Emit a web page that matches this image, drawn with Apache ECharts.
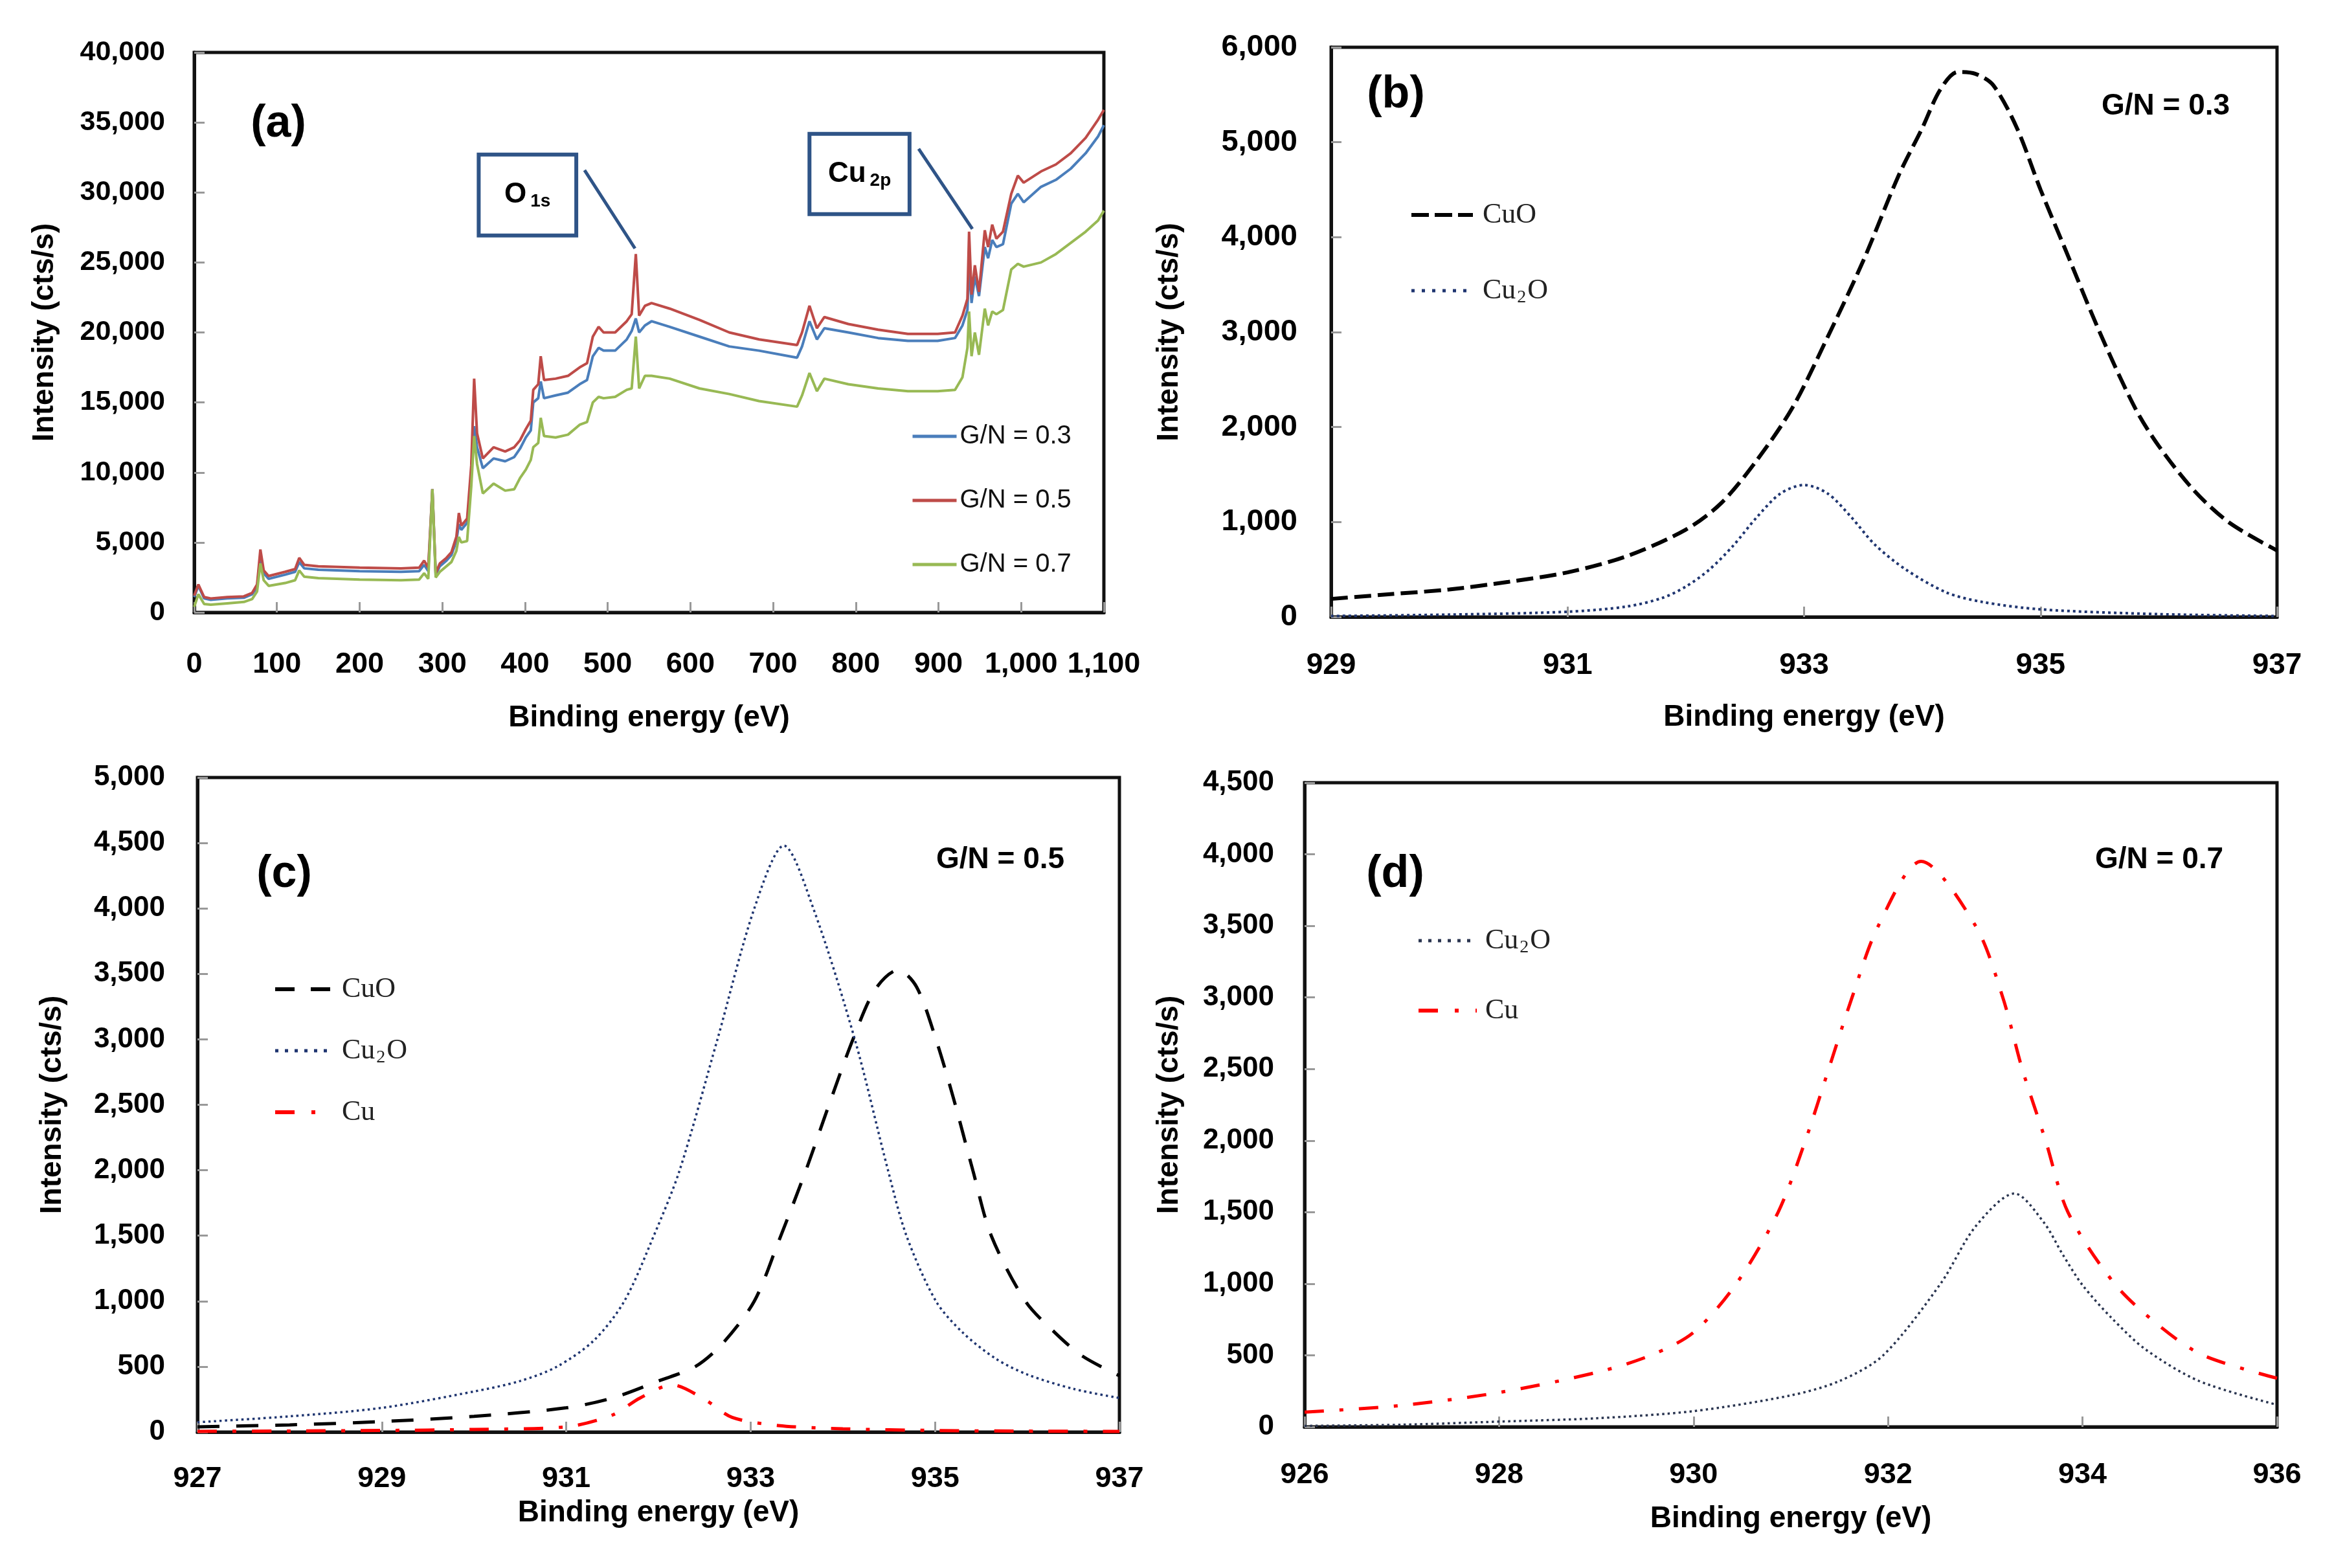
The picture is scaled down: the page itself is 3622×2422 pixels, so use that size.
<!DOCTYPE html>
<html><head><meta charset="utf-8">
<script src="https://cdn.jsdelivr.net/npm/echarts@6/dist/echarts.min.js"></script>
<style>html,body{margin:0;padding:0;background:#fff}#c{width:3622px;height:2422px}</style>
</head><body><div id="c"></div>
<script>
// ---------- Panel (a): XPS survey spectra ----------
const surveyEnergy = [0,5,12,20,40,60,70,76,80,84,90,110,122,127,133,150,200,250,272,278,283,288,292,297,305,311,317,320,323,330,335,338.5,342,349,362,376,387,394,401,407,410,416,419,423,437,452,466,475,482,489,495,509,523,529,534,538,545,553,575,611,647,683,729,735,744,753,762,791,827,863,899,920,929,935,937,940,944,949,956,960,965,970,978,988,996,1003,1024,1042,1060,1078,1093,1100];
const surveyGN03 = [1100,1900,1000,900,1000,1050,1300,1800,4000,2800,2400,2700,2900,3600,3150,3050,2950,2900,2950,3400,2950,8800,2700,3300,3700,4100,5100,6300,5900,6400,9800,13300,11800,10300,11000,10800,11100,11700,12500,13000,15000,15300,16500,15300,15500,15700,16300,16600,18300,18900,18700,18700,19500,20100,21000,20000,20500,20800,20400,19700,19000,18700,18200,19000,20800,19500,20300,20000,19600,19400,19400,19600,20500,21600,25000,22100,24000,22600,26100,25300,26600,26100,26300,29200,29900,29300,30400,30900,31700,32800,34000,34800];
const surveyGN05 = [1200,2000,1100,1000,1100,1150,1400,2000,4500,3000,2600,2900,3100,3900,3400,3300,3200,3150,3200,3700,3200,8800,2800,3500,3900,4300,5400,7100,6200,6700,10500,16700,12800,11000,11800,11500,11800,12300,13100,13700,15900,16300,18300,16600,16700,16900,17500,17800,19700,20400,20000,20000,20800,21300,25600,21200,21900,22100,21700,20900,20000,19500,19100,20000,21900,20300,21100,20600,20200,19900,19900,20000,21200,22400,27200,22700,24800,22900,27300,26100,27700,26700,27200,29900,31200,30700,31500,32000,32800,33900,35200,35900];
const surveyGN07 = [400,1300,600,550,650,750,950,1500,3500,2300,1900,2100,2300,3000,2550,2450,2350,2300,2350,2800,2400,8800,2500,2900,3300,3600,4400,5400,5000,5100,9000,12600,10600,8500,9200,8700,8800,9600,10200,10900,11800,12100,13900,12600,12500,12700,13400,13600,15000,15400,15300,15400,15900,16000,19700,16000,16900,16900,16700,16000,15600,15100,14700,15500,17100,15800,16700,16300,16000,15800,15800,15900,16800,18900,21500,18300,20000,18400,21700,20500,21500,21300,21600,24500,24900,24700,25000,25600,26400,27200,28000,28700];
const surveyNames = ['G/N = 0.3','G/N = 0.5','G/N = 0.7'];
// annotation anchors (data units of panel a)
const o1sBox = [[344,32700],[462,26930]];
const o1sLeader = [[472,31590],[533,26000]];
const cu2pBox = [[744,34180],[865,28450]];
const cu2pLeader = [[876,33120],[941,27390]];

// ---------- Panel (b): G/N = 0.3 ----------
const bCuOEnergy = [929,929.5,930,930.5,931,931.5,932,932.3,932.6,932.9,933.2,933.5,933.8,934.0,934.15,934.3,934.45,934.6,934.8,935.0,935.2,935.5,935.8,936.0,936.3,936.6,937];
const bCuO       = [190,240,290,370,470,640,920,1200,1650,2200,2950,3750,4650,5150,5550,5740,5720,5600,5150,4500,3900,3000,2200,1800,1330,990,700];
const bCu2OEnergy = [929,930,931,931.5,931.8,932.0,932.2,932.4,932.6,932.8,933.0,933.2,933.4,933.6,933.86,934.2,934.5,935,936,937];
const bCu2O       = [10,25,55,110,200,320,500,750,1050,1300,1390,1300,1050,760,500,260,160,80,30,10];

// ---------- Panel (c): G/N = 0.5 ----------
const cCuOEnergy = [927,928,929,930,931,931.5,932,932.4,932.7,933.04,933.3,933.6,933.85,934.11,934.35,934.6,934.8,935.01,935.2,935.41,935.61,935.98,936.3,936.6,937];
const cCuO       = [40,55,80,120,185,260,390,500,680,1000,1450,2000,2500,3000,3380,3530,3400,3000,2550,2000,1500,1000,760,580,430];
const cCu2OEnergy = [927,928,929,930,930.5,930.9,931.3,931.63,931.95,932.23,932.64,933.04,933.36,933.68,934.13,934.49,934.69,935.01,935.3,935.66,936,936.5,937];
const cCu2O       = [75,120,185,310,390,500,700,1000,1500,2000,3000,4000,4480,4000,3000,2000,1500,1000,760,560,440,330,260];
const cCuEnergy = [927,928,929,930,931,931.5,931.8,932.15,932.5,932.8,933.3,934,935,936,937];
const cCu       = [5,8,12,20,40,130,260,360,250,112,50,25,12,7,5];

// ---------- Panel (d): G/N = 0.7 ----------
const dCuEnergy = [926,927,928,929,929.56,930,930.44,930.87,931.15,931.39,931.63,931.9,932.34,932.9,933.18,933.38,933.62,933.85,934.33,934.8,935.24,936];
const dCu       = [103,150,240,380,500,660,1000,1500,2000,2500,3000,3500,3950,3500,3000,2500,2000,1500,1000,700,500,340];
const dCu2OEnergy = [926,927,928,929,930,931,931.5,931.95,932.54,932.9,933.3,933.6,933.8,934.0,934.3,934.65,935.2,936];
const dCu2O       = [7,15,37,60,110,220,320,500,1000,1400,1630,1430,1200,990,760,540,320,154];

// tick values
const bTicks = [929,931,933,935,937];
const cTicks = [927,929,931,933,935,937];

const SANS = '"Liberation Sans", Arial, sans-serif';
const SERIF = '"Liberation Serif", "Times New Roman", serif';

function pairs(xs, ys){ return xs.map((x,i)=>[x, ys[i]]); }
function fmt(v){ return String(v).replace(/\B(?=(\d{3})+(?!\d))/g, ','); }

function xAx(gi, min, max, interval, ticks, margin, size, nameGap){
  const a = {type:'value', gridIndex:gi, min, max,
    axisLine:{show:true,onZero:false,lineStyle:{color:'#111',width:5}},
    axisTick:{show:true,inside:true,length:16,lineStyle:{color:'#999',width:3}},
    axisLabel:{margin, fontSize:size, fontWeight:'bold', color:'#000', fontFamily:SANS, formatter:fmt},
    splitLine:{show:false},
    name:'Binding energy (eV)', nameLocation:'middle', nameGap,
    nameTextStyle:{fontSize:46, fontWeight:'bold', color:'#000', fontFamily:SANS}};
  if (ticks){ a.axisTick.customValues = ticks; a.axisLabel.customValues = ticks; }
  else a.interval = interval;
  return a;
}
function yAx(gi, max, interval, margin, size, nameGap){
  return {type:'value', gridIndex:gi, min:0, max, interval,
    axisLine:{show:true,lineStyle:{color:'#111',width:5}},
    axisTick:{show:true,inside:true,length:16,lineStyle:{color:'#999',width:3}},
    axisLabel:{margin, fontSize:size, fontWeight:'bold', color:'#000', fontFamily:SANS, formatter:fmt},
    splitLine:{show:false},
    name:'Intensity (cts/s)', nameLocation:'middle', nameGap,
    nameTextStyle:{fontSize:46, fontWeight:'bold', color:'#000', fontFamily:SANS}};
}
function line(name, gi, xs, ys, color, width, type, smooth, extra){
  return Object.assign({name, type:'line', xAxisIndex:gi, yAxisIndex:gi, data:pairs(xs,ys),
    symbol:'none', showSymbol:false, smooth:smooth, animation:false,
    lineStyle:{color, width, type}, itemStyle:{color}}, extra||{});
}
const gridBase = {show:true, borderColor:'#111', borderWidth:5, backgroundColor:'#fff', containLabel:false, outerBoundsMode:'none'};

const legendNames = n => n.startsWith('Cu2O') ? 'Cu{s|2}O' : n.split(' ')[0];
// legend icon styles per item
const legendLine = {
  'CuO (b)': {width:6, type:[27,9]},
  'Cu2O (b)': {width:5, type:[5,11]},
  'CuO (c)': {width:6, type:[30,25]},
  'Cu2O (c)': {width:5, type:[5,10]},
  'Cu (c)': {width:6, type:[30,26,6,26]},
  'Cu2O (d)': {width:5, type:[5,10]},
  'Cu (d)': {width:6, type:[30,26,6,26]}
};
function legendCfg(left, top, names, itemWidth, gap, pad){
  return {orient:'vertical', left, top, itemWidth, itemHeight:16, itemGap:gap,
    data:names.map(n => ({name:n, lineStyle:legendLine[n]})), selectedMode:false,
    formatter:legendNames,
    itemStyle:{opacity:0},
    textStyle:{fontFamily:SERIF, fontSize:44, color:'#222', lineHeight:50, padding:[0,0,0,pad],
      rich:{s:{fontFamily:SERIF, fontSize:28, color:'#222', lineHeight:28, padding:[22,2,0,2]}}}};
}

const blue='#4A7EBB', red='#BE4B48', green='#98B954';
const navy='#1F3570', black='#000', cuRed='#FF0000';
const SM = 0.3;

const option = {
  backgroundColor:'#fff', animation:false,
  grid:[
    Object.assign({left:300, top:81, width:1405, height:865}, gridBase),
    Object.assign({left:2056, top:73, width:1461, height:880}, gridBase),
    Object.assign({left:305, top:1201, width:1424, height:1011}, gridBase),
    Object.assign({left:2015, top:1209, width:1502, height:995}, gridBase)
  ],
  xAxis:[
    xAx(0, 0, 1100, 100, null, 58, 45, 140),
    xAx(1, 929, 937, null, bTicks, 52, 46, 132),
    xAx(2, 927, 937, null, cTicks, 50, 45, 102),
    xAx(3, 926, 936, 2, null, 52, 45, 119)
  ],
  yAxis:[
    yAx(0, 40000, 5000, 45, 43, 208),
    yAx(1, 6000, 1000, 52, 47, 227),
    yAx(2, 5000, 500, 50, 44, 201),
    yAx(3, 4500, 500, 47, 44, 186)
  ],
  legend:[
    {orient:'vertical', left:1402, top:644, itemWidth:68, itemHeight:16, itemGap:49, data:surveyNames, selectedMode:false,
      itemStyle:{opacity:0}, lineStyle:{width:5},
      textStyle:{fontFamily:SANS, fontSize:40, color:'#111', lineHeight:50}},
    legendCfg(2172, 302, ['CuO (b)','Cu2O (b)'], 95, 67, 10),
    legendCfg(417, 1498, ['CuO (c)','Cu2O (c)','Cu (c)'], 88, 45, 10),
    legendCfg(2183, 1423, ['Cu2O (d)','Cu (d)'], 90, 58, 8)
  ],
  series:[
    line(surveyNames[0], 0, surveyEnergy, surveyGN03, blue, 4, 'solid', false),
    line(surveyNames[1], 0, surveyEnergy, surveyGN05, red, 4, 'solid', false),
    line(surveyNames[2], 0, surveyEnergy, surveyGN07, green, 4, 'solid', false, {
      markLine:{silent:true, symbol:['none','none'], animation:false, label:{show:false},
        lineStyle:{color:'#2F5487', width:5, type:'solid'},
        data:[[{coord:o1sLeader[0]},{coord:o1sLeader[1]}],[{coord:cu2pLeader[0]},{coord:cu2pLeader[1]}]]}}),
    line('CuO (b)', 1, bCuOEnergy, bCuO, black, 6, [26,10], SM),
    line('Cu2O (b)', 1, bCu2OEnergy, bCu2O, navy, 4, [4,5], SM),
    line('CuO (c)', 2, cCuOEnergy, cCuO, black, 5, [34,26], SM),
    line('Cu2O (c)', 2, cCu2OEnergy, cCu2O, navy, 3.5, [3.5,5], SM),
    line('Cu (c)', 2, cCuEnergy, cCu, cuRed, 5, [30,24,6,24], SM),
    line('Cu2O (d)', 3, dCu2OEnergy, dCu2O, '#2A3550', 3.5, [3.5,5], SM),
    line('Cu (d)', 3, dCuEnergy, dCu, cuRed, 5, [30,24,6,24], SM)
  ]
};

const chart = echarts.init(document.getElementById('c'), null, {renderer:'canvas'});
chart.setOption(option);

// annotation boxes & panel labels
function boxGraphic(box, rich){
  const p0 = chart.convertToPixel({gridIndex:0}, box[0]);
  const p1 = chart.convertToPixel({gridIndex:0}, box[1]);
  return [
    {type:'rect', shape:{x:p0[0], y:p0[1], width:p1[0]-p0[0], height:p1[1]-p0[1]},
      style:{fill:'#fff', stroke:'#2F5487', lineWidth:6}, z:50},
    {type:'text', x:(p0[0]+p1[0])/2, y:(p0[1]+p1[1])/2, z:51,
      style:{text:rich, align:'center', verticalAlign:'middle', fill:'#000',
        rich:{b:{fontSize:44, fontWeight:'bold', fontFamily:SANS, fill:'#000', lineHeight:50},
              s:{fontSize:28, fontWeight:'bold', fontFamily:SANS, fill:'#000', lineHeight:28, padding:[20,0,0,6]}}}}
  ];
}
function label(x, y, text, size){
  return {type:'text', x, y, z:60, style:{text, font:'bold '+size+'px '+SANS, fill:'#000', align:'center', verticalAlign:'middle'}};
}
chart.setOption({graphic:[
  ...boxGraphic(o1sBox, '{b|O}{s|1s}'),
  ...boxGraphic(cu2pBox, '{b|Cu}{s|2p}'),
  label(430, 192, '(a)', 70),
  label(2156, 147, '(b)', 70),
  label(439, 1351, '(c)', 70),
  label(2155, 1351, '(d)', 70),
  label(3345, 164, 'G/N = 0.3', 46),
  label(1545, 1328, 'G/N = 0.5', 46),
  label(3335, 1328, 'G/N = 0.7', 46)
]});
</script></body></html>
